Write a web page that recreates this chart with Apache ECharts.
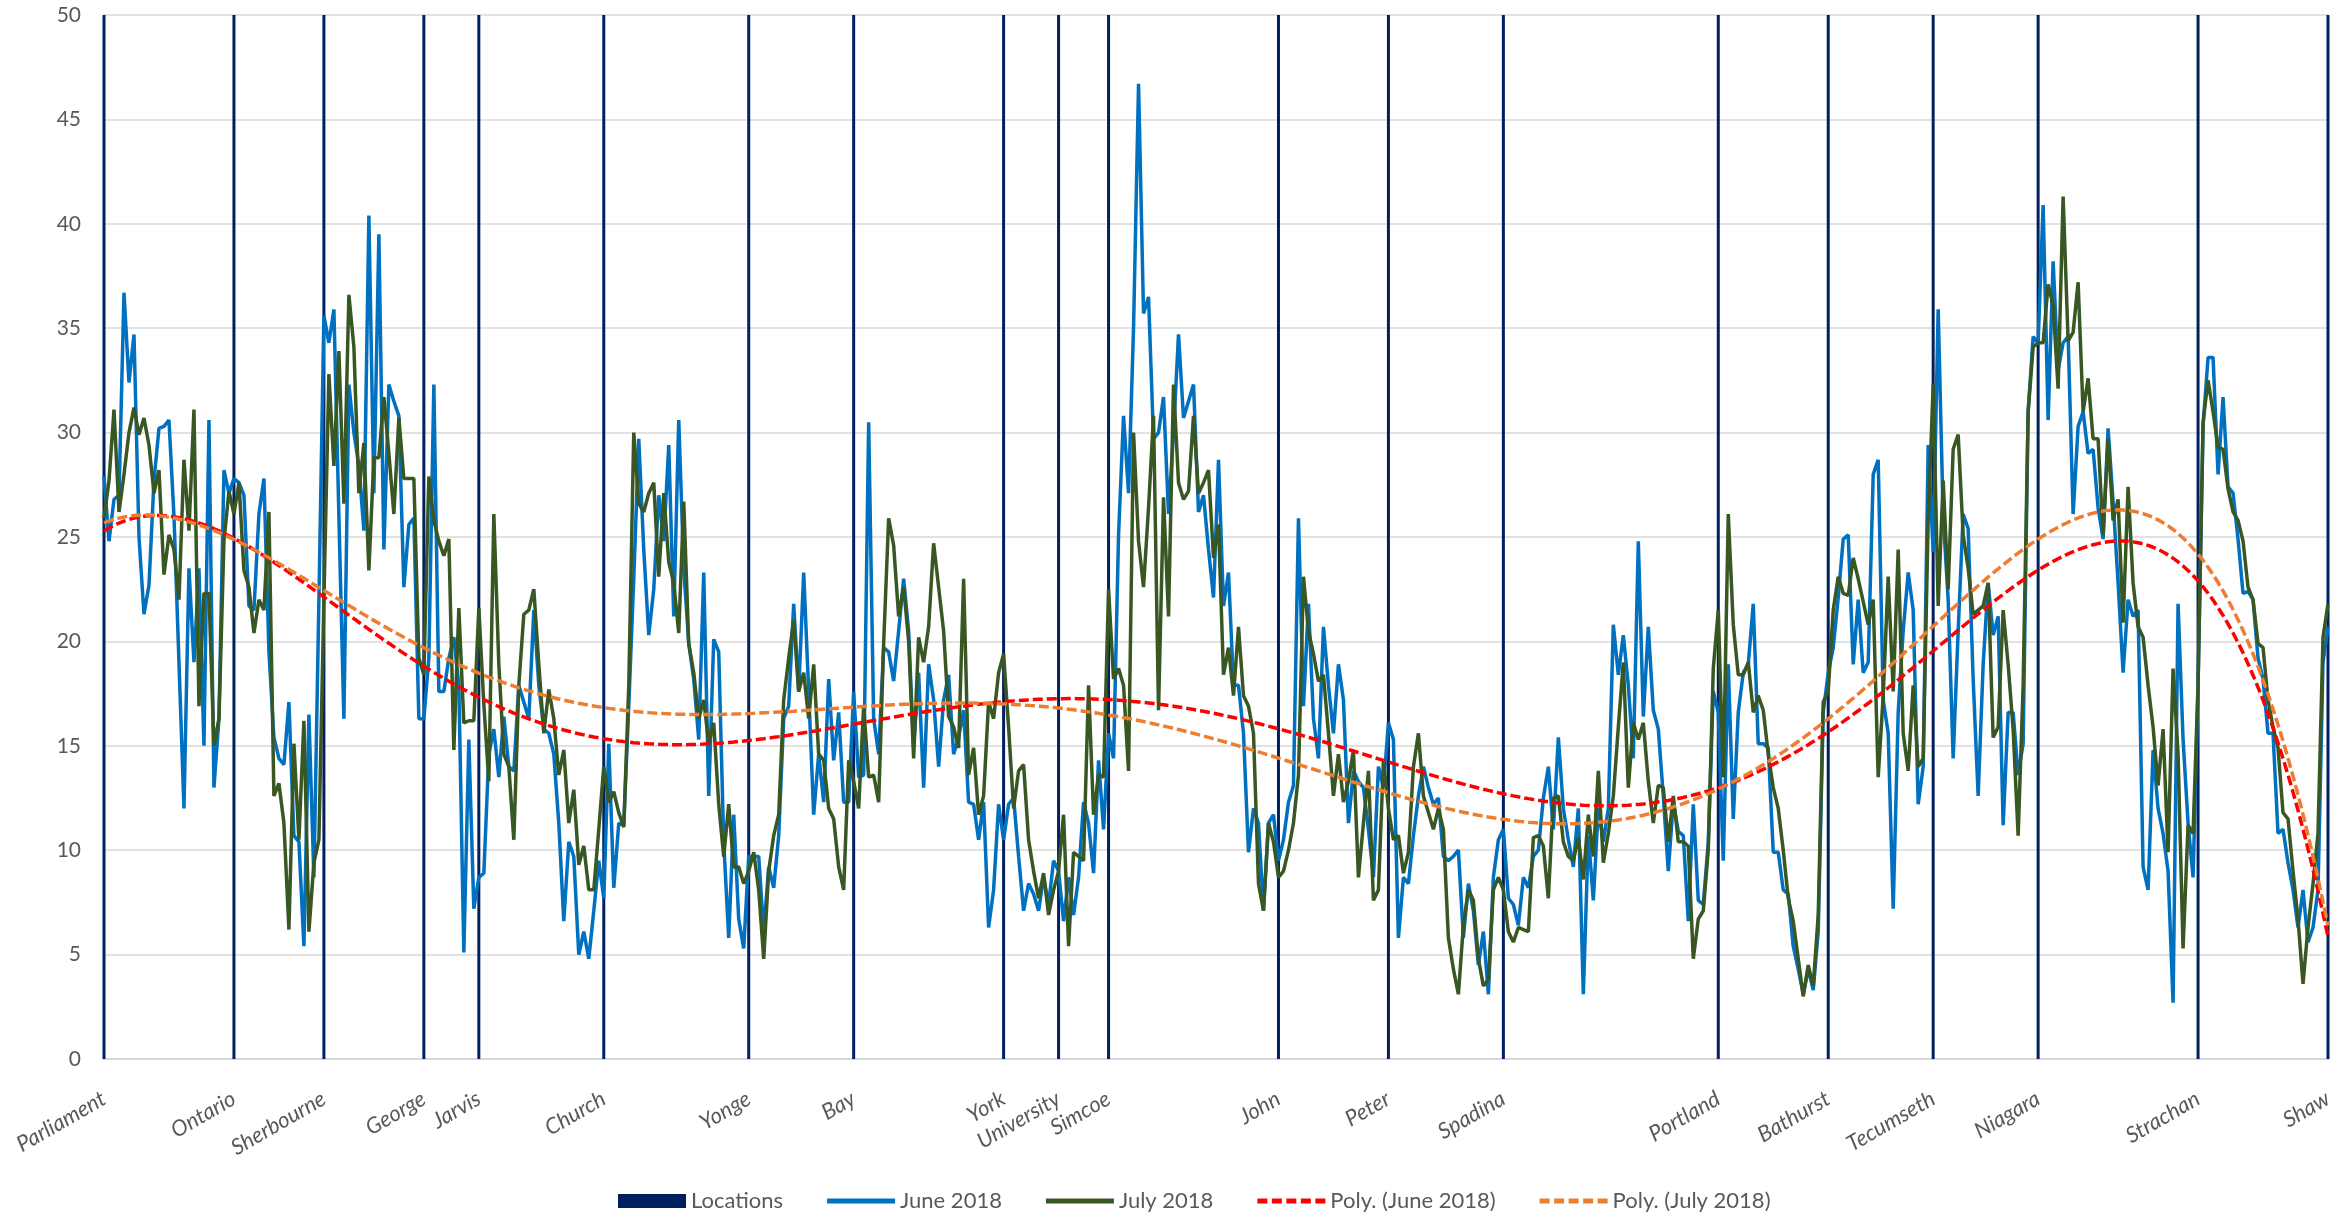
<!DOCTYPE html>
<html><head><meta charset="utf-8">
<script src="https://cdn.jsdelivr.net/npm/echarts@6/dist/echarts.min.js"></script>
<style>html,body{margin:0;padding:0;background:#fff}#c{width:2349px;height:1217px}</style>
</head><body><div id="c"></div>
<script>
const locationNames = ['Parliament','Ontario','Sherbourne','George','Jarvis','Church','Yonge','Bay','York','University','Simcoe','John','Peter','Spadina','Portland','Bathurst','Tecumseth','Niagara','Strachan','Shaw'];
const locationIndex = [0,26,44,64,75,100,129,150,180,191,201,235,257,280,323,345,366,387,419,445];
const locationHeight = 50;

const june2018 = [
27.9,24.8,26.8,27.0,36.7,32.4,34.7,25.0,21.3,22.7,
27.7,30.2,30.3,30.6,26.0,19.0,12.0,23.5,19.0,23.5,
15.0,30.6,13.0,16.3,28.2,27.1,27.8,27.6,27.0,21.7,
21.5,26.1,27.8,19.5,15.4,14.4,14.1,17.1,10.7,10.4,
5.4,16.5,8.7,22.0,35.6,34.3,35.9,26.0,16.3,32.3,
30.0,28.4,25.3,40.4,27.1,39.5,24.4,32.3,31.5,30.8,
22.6,25.6,25.9,16.3,16.3,19.2,32.3,17.6,17.6,19.2,
20.2,17.9,5.1,15.3,7.2,8.7,8.9,14.6,15.8,13.5,
16.4,14.0,13.8,17.9,17.1,16.3,21.5,17.9,15.8,15.6,
14.6,11.3,6.6,10.4,9.7,5.0,6.1,4.8,7.1,9.5,
7.7,15.1,8.2,11.3,11.2,16.9,23.0,29.7,24.4,20.3,
22.5,27.0,24.8,29.4,21.2,30.6,23.5,19.9,18.2,15.3,
23.3,12.6,20.1,19.5,10.4,5.8,11.7,6.7,5.3,9.7,
9.7,9.7,6.1,9.2,8.2,10.7,16.3,16.9,21.8,17.6,
23.3,17.6,11.7,14.6,12.3,18.2,14.3,16.6,12.3,12.3,
17.6,13.5,13.6,30.5,16.3,14.6,19.7,19.5,18.1,20.5,
23.0,20.5,14.9,18.5,13.0,18.9,17.2,14.0,17.2,18.4,
14.6,15.4,16.7,12.3,12.2,10.5,12.3,6.3,8.1,12.2,
10.5,12.2,12.5,9.7,7.1,8.4,7.9,7.1,8.7,7.4,
9.5,9.0,6.6,8.7,6.9,8.7,12.3,11.3,8.9,14.3,
11.0,15.6,14.4,25.1,30.8,27.1,35.0,46.7,35.7,36.5,
29.7,30.0,31.7,26.1,30.0,34.7,30.7,31.5,32.3,26.2,
27.0,24.4,22.1,28.7,21.7,23.3,17.9,17.9,15.6,9.9,
12.0,11.3,7.1,11.3,11.7,9.5,10.5,12.3,13.1,25.9,
16.9,21.8,16.3,14.4,20.7,17.9,15.6,18.9,17.2,11.3,
13.8,13.3,13.0,11.0,8.7,14.0,13.0,16.1,15.3,5.8,
8.7,8.4,10.7,12.6,14.0,13.0,12.2,12.5,9.7,9.5,
9.7,10.0,5.8,8.4,7.1,4.5,6.1,3.1,8.7,10.5,
11.0,7.7,7.4,6.4,8.7,8.2,9.7,10.0,12.5,14.0,
11.0,15.4,12.0,10.5,9.2,12.0,3.1,10.7,7.6,12.0,
10.4,12.0,20.8,18.4,20.3,17.9,14.4,24.8,16.4,20.7,
16.7,15.8,12.6,9.0,12.3,10.9,10.7,6.6,12.2,7.6,
7.4,10.4,17.6,16.6,9.5,18.9,11.5,16.6,18.5,18.9,
21.8,15.1,15.1,14.9,9.9,9.9,8.1,7.9,5.4,4.3,
3.1,4.3,3.3,6.1,16.6,18.5,19.7,22.1,24.9,25.1,
18.9,22.0,18.5,19.0,28.0,28.7,17.2,15.6,7.2,16.6,
20.5,23.3,21.5,12.2,14.0,29.4,24.3,35.9,26.0,22.0,
14.4,20.5,26.1,25.4,18.2,12.6,18.9,22.8,20.3,21.2,
11.2,16.6,16.6,13.6,15.1,31.0,34.6,34.3,40.9,30.6,
38.2,33.0,34.3,34.6,26.1,30.3,31.0,29.0,29.2,26.4,
24.9,30.2,26.7,22.8,18.5,22.0,21.2,21.5,9.2,8.1,
14.8,12.0,10.8,9.0,2.7,21.8,15.3,11.3,8.7,17.9,
30.3,33.6,33.6,28.0,31.7,27.4,27.1,24.9,22.3,22.4,
22.0,19.2,18.2,15.6,15.6,10.8,11.0,9.4,8.1,6.3,
8.1,5.6,6.3,8.1,19.0,20.7
];

const july2018 = [
25.9,27.7,31.1,26.2,28.0,30.0,31.2,29.9,30.7,29.4,
27.1,28.2,23.2,25.1,24.4,22.0,28.7,25.3,31.1,16.9,
22.3,22.3,15.0,16.3,24.8,27.2,26.1,27.6,23.4,22.6,
20.4,22.0,21.5,26.2,12.6,13.2,11.3,6.2,15.1,10.5,
16.2,6.1,9.4,10.5,22.0,32.8,28.4,33.9,26.6,36.6,
34.1,27.1,29.5,23.4,28.8,28.8,31.7,29.0,26.1,30.7,
27.8,27.8,27.8,19.2,18.4,27.9,25.8,24.8,24.1,24.9,
14.8,21.6,16.1,16.2,16.2,21.6,17.0,13.3,26.1,18.9,
14.6,14.0,10.5,17.9,21.3,21.5,22.5,18.9,15.6,17.7,
16.3,13.6,14.8,11.3,12.9,9.3,10.2,8.1,8.1,11.0,
14.0,12.3,12.8,11.8,11.1,17.9,30.0,26.6,26.2,27.1,
27.6,23.1,27.1,23.8,22.8,20.4,26.7,19.9,18.5,16.3,
17.2,15.1,16.1,12.2,9.7,12.2,9.2,9.2,8.4,9.0,
9.9,8.1,4.8,9.0,10.7,11.7,17.2,19.2,21.0,17.6,
18.5,16.3,18.9,14.6,14.3,12.0,11.5,9.2,8.1,14.3,
13.3,12.0,16.9,13.5,13.6,12.3,19.9,25.9,24.6,21.2,
22.6,20.0,14.4,20.2,19.0,20.7,24.7,22.6,20.5,16.4,
15.9,14.9,23.0,13.6,14.9,11.7,12.6,17.1,16.3,18.5,
19.4,15.9,12.0,13.8,14.1,10.5,9.0,7.7,8.9,6.9,
8.1,9.0,11.7,5.4,9.9,9.7,9.5,17.9,11.7,13.6,
13.5,22.5,18.2,18.7,17.9,13.8,30.0,24.8,22.6,26.4,
30.8,16.7,26.9,21.2,32.3,27.6,26.8,27.2,30.8,27.1,
27.6,28.2,24.0,25.6,18.4,19.7,17.4,20.7,17.4,16.9,
15.6,8.4,7.1,11.3,10.4,8.7,9.0,10.0,11.3,13.6,
23.1,20.5,19.4,18.1,18.4,15.6,12.6,14.6,12.3,13.3,
14.8,8.7,11.3,13.8,7.6,8.1,14.3,12.0,10.5,10.7,
8.9,9.9,14.0,15.6,12.6,11.8,11.0,12.0,11.0,5.8,
4.3,3.1,6.4,8.1,7.6,4.8,3.5,3.8,8.1,8.7,
8.1,6.1,5.6,6.3,6.2,6.1,10.6,10.7,10.2,7.7,
12.5,12.6,10.4,9.7,9.5,10.6,8.6,11.7,9.7,13.8,
9.4,10.8,12.6,15.9,19.0,13.0,16.1,15.3,16.1,13.3,
11.3,13.1,13.0,10.4,12.6,10.4,10.4,10.2,4.8,6.7,
7.1,10.0,18.7,21.5,13.5,26.1,20.8,18.4,18.4,19.0,
16.6,17.4,16.7,14.6,13.0,12.0,10.0,7.7,6.6,4.8,
3.0,4.5,3.5,6.9,17.1,17.6,21.5,23.1,22.3,22.2,
24.0,23.0,21.9,20.8,22.0,13.5,17.4,23.1,17.6,24.4,
15.6,13.8,17.9,14.0,14.4,25.8,32.3,21.7,27.7,22.5,
29.2,29.9,25.1,23.5,21.3,21.5,21.7,22.8,15.4,15.9,
21.5,18.9,15.8,10.7,17.9,31.0,34.1,34.3,34.3,37.1,
36.1,32.1,41.3,34.4,34.8,37.2,31.0,32.6,29.7,29.7,
25.1,29.7,25.8,26.8,20.9,27.4,22.8,20.7,20.2,17.9,
15.9,13.1,15.8,9.9,18.7,14.6,5.3,11.2,10.8,17.9,
30.5,32.5,31.0,29.3,29.2,27.3,26.2,25.8,24.8,22.6,
22.0,19.9,19.7,17.2,15.9,14.9,11.8,11.5,9.0,6.7,
3.6,6.3,8.4,10.8,20.2,21.8
];

const yMin = 0, yMax = 50, yStep = 5;
const trendOrder = 6;

// Excel-style polynomial trendline (least squares, order 6)
function polyTrend(ys, deg) {
  const n = ys.length, m = deg + 1;
  const xs = ys.map((_, i) => 2 * i / (n - 1) - 1);
  const A = Array.from({length: m}, () => new Array(m + 1).fill(0));
  for (let k = 0; k < n; k++) {
    const p = [1];
    for (let j = 1; j < m; j++) p.push(p[j - 1] * xs[k]);
    for (let r = 0; r < m; r++) {
      for (let c = 0; c < m; c++) A[r][c] += p[r] * p[c];
      A[r][m] += p[r] * ys[k];
    }
  }
  for (let c = 0; c < m; c++) {
    let piv = c;
    for (let r = c + 1; r < m; r++) if (Math.abs(A[r][c]) > Math.abs(A[piv][c])) piv = r;
    const t = A[c]; A[c] = A[piv]; A[piv] = t;
    for (let r = 0; r < m; r++) {
      if (r === c) continue;
      const f = A[r][c] / A[c][c];
      for (let cc = c; cc <= m; cc++) A[r][cc] -= f * A[c][cc];
    }
  }
  const coef = A.map((row, i) => row[m] / row[i]);
  return xs.map(x => { let s = 0, p = 1; for (let j = 0; j < m; j++) { s += coef[j] * p; p *= x; } return +s.toFixed(3); });
}

const categories = june2018.map((_, i) => String(i));
const nameAt = {};
locationIndex.forEach((idx, k) => { nameAt[idx] = locationNames[k]; });
const locationBars = june2018.map((_, i) => (i in nameAt) ? locationHeight : '-');

const SOLID_ICON = 'path://M0,0H68V5H0Z';
const DASH_ICON = 'path://M0,0H10V5H0Z M14.5,0H24.5V5H14.5Z M29,0H39V5H29Z M43.5,0H53.5V5H43.5Z M58,0H68V5H58Z';

const FONT = 'Lato';
const chart = echarts.init(document.getElementById('c'), null, {renderer: 'canvas'});
chart.setOption({
  animation: false,
  backgroundColor: '#ffffff',
  grid: {left: 104, right: 21, top: 15, bottom: 158, containLabel: false},
  legend: {
    left: 613, top: 1185,
    itemWidth: 68, itemHeight: 14, itemGap: 44, symbolKeepAspect: true,
    textStyle: {fontFamily: FONT, fontSize: 22, color: '#595959'},
    data: [
      {name: 'Locations', icon: 'rect'},
      {name: 'June 2018', icon: SOLID_ICON},
      {name: 'July 2018', icon: SOLID_ICON},
      {name: 'Poly. (June 2018)', icon: DASH_ICON},
      {name: 'Poly. (July 2018)', icon: DASH_ICON}
    ]
  },
  xAxis: {
    type: 'category', data: categories, boundaryGap: false,
    axisLine: {show: true, lineStyle: {color: '#D9D9D9', width: 2}},
    axisTick: {show: false},
    splitLine: {show: false},
    axisLabel: {
      interval: (idx) => idx in nameAt,
      formatter: (v, idx) => nameAt[idx] || '',
      rotate: 30, margin: 38,
      fontFamily: FONT, fontSize: 22, fontStyle: 'italic', color: '#595959'
    }
  },
  yAxis: {
    type: 'value', min: yMin, max: yMax, interval: yStep,
    axisLine: {show: false}, axisTick: {show: false},
    splitLine: {lineStyle: {color: '#D9D9D9', width: 1.5}},
    axisLabel: {fontFamily: FONT, fontSize: 21, color: '#595959', margin: 23}
  },
  series: [
    {name: 'Locations', type: 'bar', data: locationBars, barWidth: 3, clip: false,
     itemStyle: {color: '#002060'}, z: 1},
    {name: 'June 2018', type: 'line', data: june2018, symbol: 'none',
     lineStyle: {color: '#0070C0', width: 3.5}, itemStyle: {color: '#0070C0'}, z: 2},
    {name: 'July 2018', type: 'line', data: july2018, symbol: 'none',
     lineStyle: {color: '#385723', width: 3.5}, itemStyle: {color: '#385723'}, z: 3},
    {name: 'Poly. (June 2018)', type: 'line', data: polyTrend(june2018, trendOrder), symbol: 'none',
     lineStyle: {color: '#FF0000', width: 3.5, type: [10, 4]}, itemStyle: {color: '#FF0000'}, z: 4},
    {name: 'Poly. (July 2018)', type: 'line', data: polyTrend(july2018, trendOrder), symbol: 'none',
     lineStyle: {color: '#ED7D31', width: 3.5, type: [10, 4]}, itemStyle: {color: '#ED7D31'}, z: 5}
  ]
});
</script>
</body></html>
